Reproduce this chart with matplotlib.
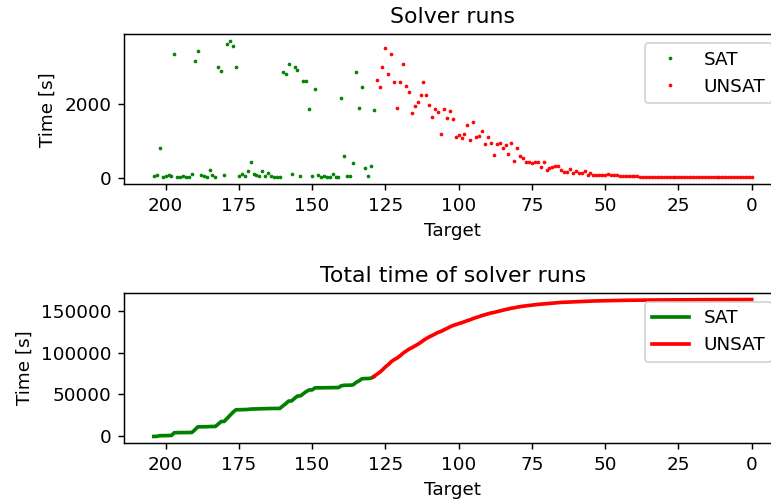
import numpy as np
import matplotlib
matplotlib.use('Agg')
import matplotlib.pyplot as plt

# targets solved as SAT (204 down to 129) and their run times in seconds
sat_targets = list(range(204, 128, -1))
sat_times = [44, 89, 819, 35, 62, 89, 62, 3343, 35, 35,
             53, 26, 26, 116, 3171, 3432, 89, 53, 35, 225,
             71, 26, 3009, 2901, 71, 3622, 3703, 3568, 3009, 53,
             98, 53, 189, 432, 107, 80, 53, 189, 44, 144,
             62, 35, 35, 35, 2865, 2802, 3090, 116, 3009, 2910,
             62, 2622, 2622, 1874, 62, 2405, 71, 26, 62, 35,
             35, 98, 26, 26, 2162, 586, 44, 44, 405, 2856,
             1901, 2468, 279, 43, 324, 1838]

# targets proven UNSAT (128 down to 0)
unsat_targets = list(range(128, -1, -1))
unsat_times = [2631, 2450, 2991, 3514, 2811, 3360, 2577, 1883, 2577, 3090,
               2486, 2324, 1739, 1937, 2063, 2252, 2577, 2252, 1973, 1649,
               1856, 1793, 1189, 1856, 1613, 1811, 1595, 1117, 1171, 1081,
               1198, 1423, 1018, 1505, 1099, 1135, 1261, 919, 1099, 955,
               622, 910, 937, 793, 892, 640, 955, 459, 793, 577,
               532, 432, 432, 396, 432, 432, 306, 420, 207, 279,
               306, 333, 333, 225, 162, 162, 252, 144, 180, 144,
               144, 189, 72, 135, 90, 90, 90, 85, 75, 108,
               75, 70, 65, 60, 55, 50, 48, 45, 42, 40,
               35, 33, 30, 30, 28, 27, 26, 25, 25, 24,
               23, 22, 22, 21, 20, 20, 19, 18, 18, 17,
               17, 16, 16, 15, 15, 14, 14, 13, 13, 12,
               12, 12, 11, 11, 11, 10, 10, 10, 10]

dpi = 132
fig = plt.figure(figsize=(771 / dpi, 503 / dpi), dpi=dpi)

# scatter of single runs
ax1 = fig.add_axes([0.1608, 0.6336, 0.8529, 0.2988])
ax1.plot(sat_targets, sat_times, '.', color='green', markersize=3, markeredgewidth=0.5, label='SAT')
ax1.plot(unsat_targets, unsat_times, '.', color='red', markersize=3, markeredgewidth=0.5, label='UNSAT')
ax1.invert_xaxis()
ax1.set_title('Solver runs')
ax1.set_xlabel('Target')
ax1.set_ylabel('Time [s]')
ax1.legend(loc='upper right')

# cumulative time
sat_cum = np.cumsum(sat_times)
unsat_cum = sat_cum[-1] + np.cumsum(unsat_times)

ax2 = fig.add_axes([0.1608, 0.1187, 0.8529, 0.2994])
ax2.plot(sat_targets, sat_cum, color='green', linewidth=2, label='SAT')
ax2.plot([sat_targets[-1]] + unsat_targets, np.concatenate([[sat_cum[-1]], unsat_cum]),
         color='red', linewidth=2, label='UNSAT')
ax2.invert_xaxis()
ax2.set_title('Total time of solver runs')
ax2.set_xlabel('Target')
ax2.set_ylabel('Time [s]')
ax2.legend(loc='upper right')

fig.savefig('out.png', dpi=dpi)
